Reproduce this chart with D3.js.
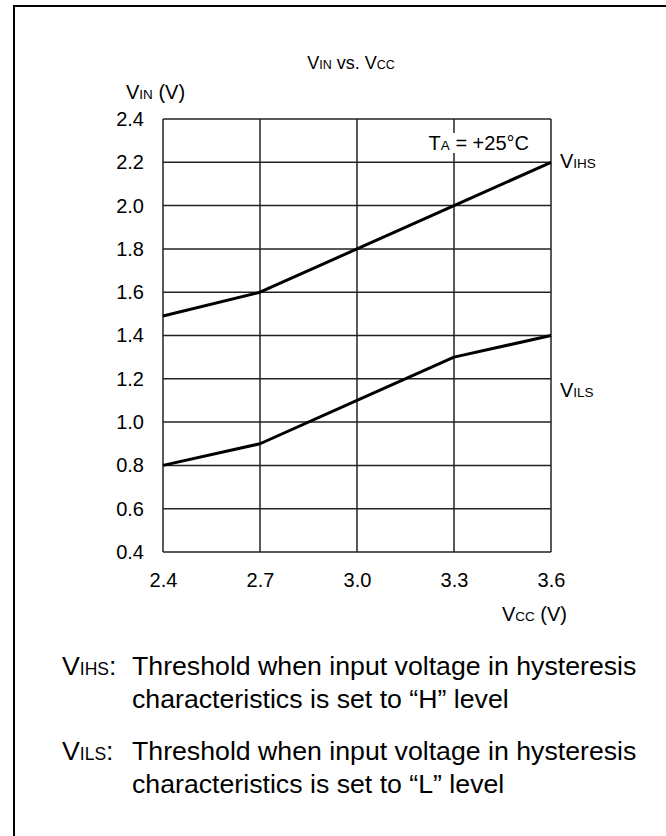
<!DOCTYPE html>
<html><head><meta charset="utf-8">
<script src="https://cdn.jsdelivr.net/npm/d3@7/dist/d3.min.js"></script>
<style>
body{margin:0;background:#fff}
svg{display:block}
text{font-family:"Liberation Sans",Arial,Helvetica,sans-serif;fill:#000}
</style>
</head><body>
<svg id="c" width="666" height="836"></svg>
<script>
// ---- data ----
const vcc   = [2.4, 2.7, 3.0, 3.3, 3.6];
const vihs  = [1.49, 1.6, 1.8, 2.0, 2.2];
const vils  = [0.8, 0.9, 1.1, 1.3, 1.4];
const xTicks = [2.4, 2.7, 3.0, 3.3, 3.6];
const yTicks = [0.4, 0.6, 0.8, 1.0, 1.2, 1.4, 1.6, 1.8, 2.0, 2.2, 2.4];
const notes = [
  {sub: "IHS", line1: "Threshold when input voltage in hysteresis", line2: "characteristics is set to \u201CH\u201D level"},
  {sub: "ILS", line1: "Threshold when input voltage in hysteresis", line2: "characteristics is set to \u201CL\u201D level"}
];

// ---- layout ----
const L = 163, R = 551, T = 119, B = 552;
const svg = d3.select("#c");
const x = d3.scaleLinear().domain([2.4, 3.6]).range([L, R]);
const y = d3.scaleLinear().domain([0.4, 2.4]).range([B, T]);

// outer frame
svg.append("path").attr("d", "M14,836V6H666").attr("fill", "none")
  .attr("stroke", "#000").attr("stroke-width", 2);

function subText(g, px, py, parts, anchor) {
  const t = g.append("text").attr("x", px).attr("y", py).attr("text-anchor", anchor || "start");
  parts.forEach(p => t.append("tspan").attr("font-size", p[1]).text(p[0]));
  return t;
}

// grid
const grid = svg.append("g").attr("stroke", "#222").attr("stroke-width", 1.5);
grid.selectAll("line.h").data(yTicks).join("line").attr("class", "h")
  .attr("x1", L).attr("x2", R).attr("y1", d => y(d)).attr("y2", d => y(d));
grid.selectAll("line.v").data(xTicks).join("line").attr("class", "v")
  .attr("y1", T).attr("y2", B).attr("x1", d => x(d)).attr("x2", d => x(d));

// axes labels via d3 axes
const yAxis = svg.append("g").attr("transform", `translate(${L},0)`)
  .call(d3.axisLeft(y).tickValues(yTicks).tickFormat(d3.format(".1f")).tickSize(0).tickPadding(19));
const xAxis = svg.append("g").attr("transform", `translate(0,${B})`)
  .call(d3.axisBottom(x).tickValues(xTicks).tickFormat(d3.format(".1f")).tickSize(0).tickPadding(21));
[yAxis, xAxis].forEach(a => {
  a.select(".domain").remove();
  a.selectAll("text").attr("font-size", 20).attr("font-family", null).attr("fill", "#000");
  a.attr("font-family", null).attr("font-size", null);
});

// curves
const line = d3.line().x(d => x(d[0])).y(d => y(d[1]));
[vihs, vils].forEach(s => {
  svg.append("path").datum(vcc.map((v, i) => [v, s[i]])).attr("d", line)
    .attr("fill", "none").attr("stroke", "#000").attr("stroke-width", 3)
    .attr("stroke-linejoin", "round");
});

// texts
subText(svg, 351, 69, [["V", 18], ["IN", 12.5], [" vs. V", 18], ["CC", 12.5]], "middle");
subText(svg, 126, 99, [["V", 20], ["IN", 13.5], [" (V)", 20]]);
subText(svg, 567, 621, [["V", 20], ["CC", 13.5], [" (V)", 20]], "end");
const ta = subText(svg, 529, 150, [["T", 20], ["A", 13.5], [" = +25\u00B0C", 20]], "end");
const bb = ta.node().getBBox();
svg.insert("rect", () => ta.node()).attr("x", bb.x - 3).attr("y", bb.y + 1)
  .attr("width", bb.width + 6).attr("height", bb.height - 2).attr("fill", "#fff");
subText(svg, 560, 168, [["V", 20], ["IHS", 13.5]]);
subText(svg, 560, 397, [["V", 20], ["ILS", 13.5]]);

// footnotes
const nb = [675, 760];
notes.forEach((n, i) => {
  subText(svg, 62, nb[i], [["V", 26.7], [n.sub, 17.5], [":", 26.7]]);
  svg.append("text").attr("x", 132).attr("y", nb[i]).attr("font-size", 26.7).text(n.line1);
  svg.append("text").attr("x", 132).attr("y", nb[i] + 33).attr("font-size", 26.7).text(n.line2);
});
</script>
</body></html>
